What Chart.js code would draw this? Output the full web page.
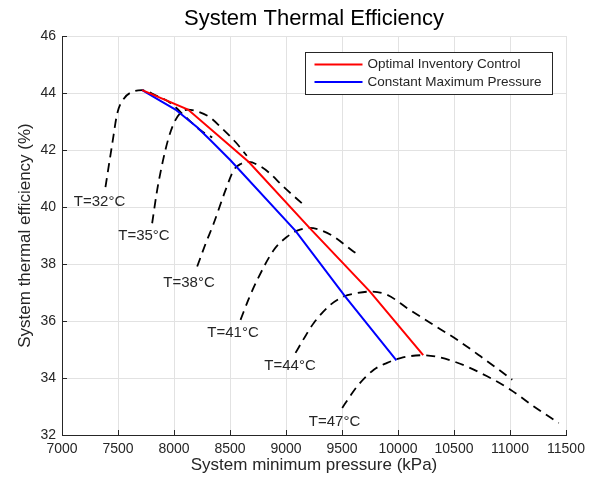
<!DOCTYPE html>
<html>
<head>
<meta charset="utf-8">
<title>System Thermal Efficiency</title>
<script src="https://cdn.jsdelivr.net/npm/chart.js@4.4.1/dist/chart.umd.min.js"></script>
<style>
  html, body { margin: 0; padding: 0; background: #fff; }
  #wrap { width: 597px; height: 482px; }
</style>
</head>
<body>
<div id="wrap"><canvas id="eff-chart"></canvas></div>
<script>
// Optimal inventory control (passes through the peak of each isotherm)
const optX = [7716, 8125, 8668, 9210, 9750, 10225];
const optY = [44.1, 43.42, 41.58, 39.27, 37.03, 34.80];

// Constant maximum pressure
const cmpX = [7716, 7879, 8013, 8207, 8326, 8504, 9085, 9531, 9986];
const cmpY = [44.1, 43.72, 43.42, 42.8, 42.34, 41.64, 39.16, 36.85, 34.62];

// Isotherms (dashed)
const t32X = [7388, 7448, 7493, 7552, 7627, 7716, 7835, 7969, 8103, 8237, 8341];
const t32Y = [40.7, 42.2, 43.28, 43.8, 44.04, 44.1, 43.92, 43.65, 43.16, 42.69, 42.44];
const t35X = [7805, 7850, 7900, 7950, 8000, 8050, 8125, 8221, 8326, 8415, 8549, 8650];
const t35Y = [39.43, 40.6, 41.6, 42.4, 42.95, 43.27, 43.42, 43.34, 43.13, 42.81, 42.28, 41.8];
const t38X = [8207, 8281, 8355, 8460, 8534, 8600, 8668, 8760, 8844, 8978, 9159];
const t38Y = [37.91, 38.7, 39.43, 40.59, 41.3, 41.52, 41.58, 41.45, 41.22, 40.71, 40.07];
const t41X = [8594, 8670, 8743, 8891, 9011, 9100, 9210, 9308, 9427, 9605, 9650];
const t41Y = [36.04, 36.8, 37.44, 38.49, 38.96, 39.17, 39.27, 39.19, 38.96, 38.43, 38.32];
const t44X = [9085, 9170, 9248, 9397, 9516, 9635, 9750, 9903, 10082, 10290, 10528, 10737, 11020];
const t44Y = [34.88, 35.45, 35.93, 36.57, 36.86, 36.98, 37.03, 36.92, 36.45, 35.93, 35.34, 34.76, 33.94];
const t47X = [9502, 9570, 9636, 9784, 9903, 10022, 10225, 10498, 10796, 11004, 11213, 11435];
const t47Y = [32.95, 33.35, 33.71, 34.29, 34.53, 34.70, 34.80, 34.58, 34.06, 33.59, 33.0, 32.42];

// Isotherm labels
const tempLabels = ["T=32°C", "T=35°C", "T=38°C", "T=41°C", "T=44°C", "T=47°C"];
const labelX = [7335, 7732, 8134, 8527, 9036, 9433];
const labelY = [40.18, 38.98, 37.33, 35.58, 34.43, 32.47];

const chartTitle = "System Thermal Efficiency";

const FONT = "'Liberation Sans', Arial, Helvetica, sans-serif";
const INK = "#262626";

function pts(xs, ys) {
  return xs.map((x, i) => ({ x: x, y: ys[i] }));
}

function isotherm(xs, ys) {
  return {
    label: "",
    data: pts(xs, ys),
    showLine: true,
    borderColor: "#000",
    borderWidth: 1.8,
    borderDash: [9, 6],
    pointRadius: 0,
    cubicInterpolationMode: "monotone",
    inLegend: false,
  };
}

// Title over the plot box, tick marks, isotherm labels and the boxed legend
const decorations = {
  id: "decorations",
  afterDatasetsDraw(chart) {
    const { ctx, chartArea: a, scales: { x, y } } = chart;
    ctx.save();

    // title centred on the axes, not the canvas
    ctx.fillStyle = "#000";
    ctx.font = "22px " + FONT;
    ctx.textAlign = "center";
    ctx.textBaseline = "middle";
    ctx.fillText(chartTitle, (a.left + a.right) / 2, 19);

    // inward ticks on left and bottom axes
    ctx.strokeStyle = INK;
    ctx.lineWidth = 1;
    ctx.beginPath();
    x.ticks.forEach((t) => {
      const px = Math.round(x.getPixelForValue(t.value)) + 0.5;
      ctx.moveTo(px, a.bottom);
      ctx.lineTo(px, a.bottom - 5);
    });
    y.ticks.forEach((t) => {
      const py = Math.round(y.getPixelForValue(t.value)) + 0.5;
      ctx.moveTo(a.left, py);
      ctx.lineTo(a.left + 5, py);
    });
    ctx.stroke();

    // isotherm labels
    ctx.fillStyle = INK;
    ctx.font = "15px " + FONT;
    tempLabels.forEach((txt, i) => {
      ctx.fillText(txt, x.getPixelForValue(labelX[i]), y.getPixelForValue(labelY[i]));
    });

    // legend box
    const items = chart.data.datasets.filter((d) => d.inLegend);
    const boxW = 247, rowH = 17.5;
    const boxH = items.length * rowH + 7;
    const bx = a.right - 14 - boxW + 0.5;
    const by = a.top + 16 + 0.5;
    ctx.fillStyle = "#fff";
    ctx.fillRect(bx, by, boxW, boxH);
    ctx.strokeStyle = INK;
    ctx.lineWidth = 1;
    ctx.strokeRect(bx, by, boxW, boxH);
    ctx.font = "13.5px " + FONT;
    ctx.textAlign = "left";
    items.forEach((d, i) => {
      const ry = by + 12 + i * rowH;
      ctx.strokeStyle = d.borderColor;
      ctx.lineWidth = 2;
      ctx.beginPath();
      ctx.moveTo(bx + 9, ry);
      ctx.lineTo(bx + 57, ry);
      ctx.stroke();
      ctx.fillStyle = INK;
      ctx.fillText(d.label, bx + 62, ry);
    });

    ctx.restore();
  },
};

const ctx = document.getElementById("eff-chart").getContext("2d");
const chart = new Chart(ctx, {
  type: "scatter",
  data: {
    datasets: [
      {
        label: "Optimal Inventory Control",
        data: pts(optX, optY),
        showLine: true,
        borderColor: "#ff0000",
        borderWidth: 2,
        pointRadius: 0,
        tension: 0,
        inLegend: true,
      },
      {
        label: "Constant Maximum Pressure",
        data: pts(cmpX, cmpY),
        showLine: true,
        borderColor: "#0000ff",
        borderWidth: 2,
        pointRadius: 0,
        tension: 0,
        inLegend: true,
      },
      isotherm(t32X, t32Y),
      isotherm(t35X, t35Y),
      isotherm(t38X, t38Y),
      isotherm(t41X, t41Y),
      isotherm(t44X, t44Y),
      isotherm(t47X, t47Y),
    ],
  },
  options: {
    responsive: true,
    maintainAspectRatio: false,
    animation: false,
    layout: { padding: { left: 0, right: 31, top: 36, bottom: 0 } },
    plugins: {
      legend: { display: false },
      tooltip: { enabled: false },
      title: { display: false },
    },
    scales: {
      x: {
        type: "linear",
        min: 7000,
        max: 11500,
        afterFit: (s) => { s.height = 47; },
        ticks: {
          stepSize: 500,
          autoSkip: false,
          maxRotation: 0,
          padding: 6,
          color: INK,
          font: { family: FONT, size: 14 },
          callback: (v) => String(v),
        },
        grid: { color: "#e2e2e2", drawTicks: false },
        border: { display: true, color: INK, width: 1 },
        title: {
          display: true,
          text: "System minimum pressure (kPa)",
          color: INK,
          font: { family: FONT, size: 17 },
          padding: { top: 0, bottom: 6 },
        },
      },
      y: {
        min: 32,
        max: 46,
        afterFit: (s) => { s.width = 62; },
        ticks: {
          stepSize: 2,
          padding: 6,
          color: INK,
          font: { family: FONT, size: 14 },
        },
        grid: { color: "#e2e2e2", drawTicks: false },
        border: { display: true, color: INK, width: 1 },
        title: {
          display: true,
          text: "System thermal efficiency (%)",
          color: INK,
          font: { family: FONT, size: 17 },
          padding: { top: 15, bottom: 0 },
        },
      },
    },
  },
  plugins: [decorations],
});
</script>
</body>
</html>
